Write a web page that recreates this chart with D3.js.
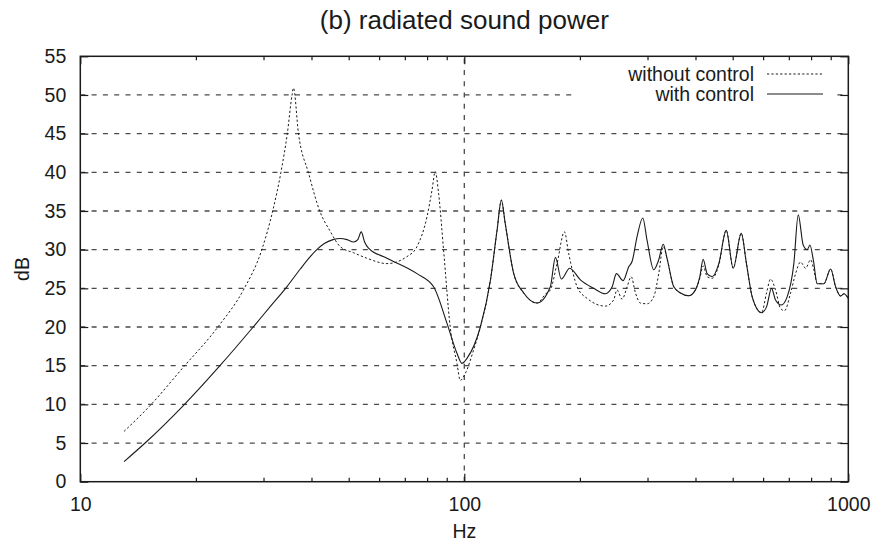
<!DOCTYPE html>
<html>
<head>
<meta charset="utf-8">
<script src="https://cdn.jsdelivr.net/npm/d3@7"></script>
<style>
  html, body { margin: 0; padding: 0; background: #fff; }
  svg { display: block; font-family: "Liberation Sans", Arial, Helvetica, sans-serif; }
</style>
</head>
<body>
<svg id="chart" width="875" height="548"></svg>
<script>
// Radiated sound power spectra, with and without active control
const withoutFreq = [13.0, 15.3, 18.4, 22.9, 26.6, 29.7, 31.7, 33.3, 34.6, 35.6, 35.9, 37.0, 39.3, 42.1, 44.6, 47.5, 51.5, 55.7, 62.9, 70.9, 75.3, 80.0, 82.4, 84.0, 85.7, 88.3, 91.9, 95.7, 97.6, 100.6, 105.7, 110.1, 117, 121.7, 124.9, 127.8, 134.5, 142.8, 154.7, 163, 167.5, 174.4, 182.3, 187.0, 196.7, 208.8, 233.1, 244.9, 249.8, 257.6, 265.5, 272, 279.1, 287.5, 299.2, 311.4, 320.9, 329.6, 337.5, 351.2, 365.6, 384.2, 400, 410.5, 418.8, 429, 442.2, 460, 481, 501.5, 526.3, 543, 562, 594.3, 612.4, 627.4, 646.4, 666, 682, 707.5, 729, 751, 774, 798, 813, 830, 864, 899.5, 926.8, 955, 974, 1000];
const withoutDb = [6.5, 10.0, 14.6, 20.1, 24.8, 30.0, 35.0, 40.0, 45.0, 50.0, 50.9, 45.0, 39.9, 34.9, 32.5, 30.4, 29.6, 28.9, 28.2, 29.1, 30.4, 34.3, 37.7, 40.1, 37.3, 30.0, 20.0, 15.3, 13.1, 14.0, 17.0, 20.0, 26.1, 32.5, 36.4, 33.4, 26.9, 24.4, 23.1, 24.3, 24.8, 28.2, 32.3, 29.5, 25.2, 23.7, 22.7, 23.5, 24.8, 23.6, 25.2, 26.5, 24.4, 23.1, 23.0, 23.9, 26.9, 30.4, 28.8, 25.2, 24.4, 24.05, 24.8, 26.3, 27.9, 26.5, 26.3, 28.0, 32.5, 27.6, 32.1, 28.2, 23.9, 21.85, 24.4, 26.2, 24.8, 22.4, 22.1, 24.4, 26.9, 28.4, 27.6, 28.7, 27.4, 25.6, 25.6, 27.5, 25.2, 24.0, 24.3, 23.7];

const withFreq = [13.0, 14.75, 18.6, 23.1, 28.2, 31.3, 34.5, 37.4, 39.7, 41.3, 43.2, 45.5, 47.5, 49.5, 51.5, 52.8, 53.9, 55.0, 56.3, 62.9, 75.3, 83.2, 90.1, 95.7, 98.6, 101.6, 110.1, 117, 121.7, 124.9, 127.8, 134.5, 142.8, 154.7, 167.5, 172.7, 178.9, 188.1, 200.6, 217.3, 233.1, 242.7, 248.9, 259.2, 268.1, 273.6, 281.8, 291.6, 299.2, 311.4, 320.9, 329.6, 337.5, 351.2, 365.6, 384.2, 400, 410.5, 418.8, 429, 442.2, 460, 481, 501.5, 526.3, 543, 562, 594.3, 612.4, 631, 646.4, 669, 693, 721.4, 740.7, 763, 781.6, 794.4, 810.6, 830, 864, 899.5, 926.8, 955, 974, 1000];
const withDb = [2.6, 5.0, 9.9, 15.0, 20.0, 22.7, 25.2, 27.5, 29.1, 30.0, 30.8, 31.3, 31.45, 31.3, 31.0, 31.3, 32.3, 31.0, 30.2, 28.9, 26.9, 25.2, 20.5, 16.6, 15.3, 15.95, 20.0, 26.1, 32.5, 36.4, 33.4, 26.9, 24.4, 23.1, 25.2, 29.0, 26.2, 27.6, 26.1, 25.0, 24.3, 25.2, 26.9, 26.0, 27.8, 28.5, 31.7, 34.1, 31.2, 27.4, 28.7, 30.7, 28.8, 25.2, 24.4, 24.05, 24.8, 26.5, 28.75, 26.9, 26.5, 28.2, 32.5, 27.6, 32.1, 28.2, 23.9, 21.85, 22.6, 25.0, 23.5, 22.85, 23.9, 28.2, 34.5, 30.6, 30.0, 30.6, 28.7, 25.6, 25.6, 27.5, 25.2, 24.0, 24.3, 23.7];

const yTicks = [0, 5, 10, 15, 20, 25, 30, 35, 40, 45, 50, 55];
const xMajorTicks = [10, 100, 1000];
const xMinorTicks = [20, 30, 40, 50, 60, 70, 80, 90, 200, 300, 400, 500, 600, 700, 800, 900];
const titleText = "(b) radiated sound power";
const xLabel = "Hz";
const yLabel = "dB";
const seriesNames = ["without control", "with control"];

const svg = d3.select("#chart");
const plotLeft = 80.3, plotRight = 848.3, plotTop = 56.3, plotBottom = 481.7;

const x = d3.scaleLog().domain([10, 1000]).range([plotLeft, plotRight]);
const y = d3.scaleLinear().domain([0, 55]).range([plotBottom, plotTop]);

const ink = "#1a1a1a";
const gridColor = "#4a4a4a";

// grid lines
const grid = svg.append("g").attr("stroke", gridColor).attr("stroke-width", 1.3)
  .attr("stroke-dasharray", "5,6.3");
grid.selectAll("line.h").data(yTicks.filter(v => v > 0 && v < 55)).join("line")
  .attr("class", "h")
  .attr("x1", plotLeft).attr("x2", plotRight)
  .attr("y1", d => y(d)).attr("y2", d => y(d));
grid.append("line")
  .attr("x1", x(100)).attr("x2", x(100))
  .attr("y1", plotBottom).attr("y2", plotTop);

// axes: ticks point inward, mirrored on top and right
function styleAxis(g) {
  g.select(".domain").remove();
  g.selectAll("line").attr("stroke", ink).attr("stroke-width", 1.2);
  g.selectAll("text").attr("fill", ink).attr("font-size", 19.5)
    .attr("font-family", "'Liberation Sans', Arial, sans-serif");
}
svg.append("g").attr("transform", `translate(0,${plotBottom})`)
  .call(d3.axisBottom(x).tickValues(xMajorTicks).tickFormat(d3.format("d")).tickSize(-8).tickPadding(15))
  .call(styleAxis);
svg.append("g").attr("transform", `translate(0,${plotBottom})`)
  .call(d3.axisBottom(x).tickValues(xMinorTicks).tickFormat("").tickSize(-4))
  .call(styleAxis);
svg.append("g").attr("transform", `translate(0,${plotTop})`)
  .call(d3.axisTop(x).tickValues(xMajorTicks).tickFormat("").tickSize(-8))
  .call(styleAxis);
svg.append("g").attr("transform", `translate(0,${plotTop})`)
  .call(d3.axisTop(x).tickValues(xMinorTicks).tickFormat("").tickSize(-4))
  .call(styleAxis);
svg.append("g").attr("transform", `translate(${plotLeft},0)`)
  .call(d3.axisLeft(y).tickValues(yTicks).tickSize(-8).tickPadding(14))
  .call(styleAxis);
svg.append("g").attr("transform", `translate(${plotRight},0)`)
  .call(d3.axisRight(y).tickValues(yTicks).tickFormat("").tickSize(-8))
  .call(styleAxis);

// curves
const line = d3.line().x(d => x(d[0])).y(d => y(d[1])).curve(d3.curveMonotoneX);
const withoutPts = withoutFreq.map((f, i) => [f, withoutDb[i]]);
const withPts = withFreq.map((f, i) => [f, withDb[i]]);

svg.append("path").datum(withoutPts)
  .attr("d", line).attr("fill", "none")
  .attr("stroke", ink).attr("stroke-width", 1).attr("stroke-dasharray", "2.2,2.2");
svg.append("path").datum(withPts)
  .attr("d", line).attr("fill", "none")
  .attr("stroke", ink).attr("stroke-width", 1.1);

// key
const key = svg.append("g");
key.append("rect").attr("x", 572).attr("y", 63).attr("width", 264).attr("height", 41)
  .attr("fill", "#fff");
const keyRows = [
  { name: seriesNames[0], dash: "2.2,2.2", yc: 74 },
  { name: seriesNames[1], dash: null, yc: 94 }
];
keyRows.forEach(r => {
  key.append("text").attr("x", 754).attr("y", r.yc).attr("dy", "0.35em")
    .attr("text-anchor", "end").attr("font-size", 19.5).attr("fill", ink).text(r.name);
  key.append("line").attr("x1", 767).attr("x2", 823).attr("y1", r.yc).attr("y2", r.yc)
    .attr("stroke", ink).attr("stroke-width", 1.1)
    .attr("stroke-dasharray", r.dash);
});

// frame
svg.append("rect").attr("x", plotLeft).attr("y", plotTop)
  .attr("width", plotRight - plotLeft).attr("height", plotBottom - plotTop)
  .attr("fill", "none").attr("stroke", ink).attr("stroke-width", 1.5);

// titles
svg.append("text").attr("x", (plotLeft + plotRight) / 2).attr("y", 29)
  .attr("text-anchor", "middle").attr("font-size", 26).attr("fill", ink).text(titleText);
svg.append("text").attr("x", (plotLeft + plotRight) / 2).attr("y", 538)
  .attr("text-anchor", "middle").attr("font-size", 19.5).attr("fill", ink).text(xLabel);
svg.append("text").attr("transform", `translate(29,${(plotTop + plotBottom) / 2}) rotate(-90)`)
  .attr("text-anchor", "middle").attr("font-size", 19.5).attr("fill", ink).text(yLabel);
</script>
</body>
</html>
